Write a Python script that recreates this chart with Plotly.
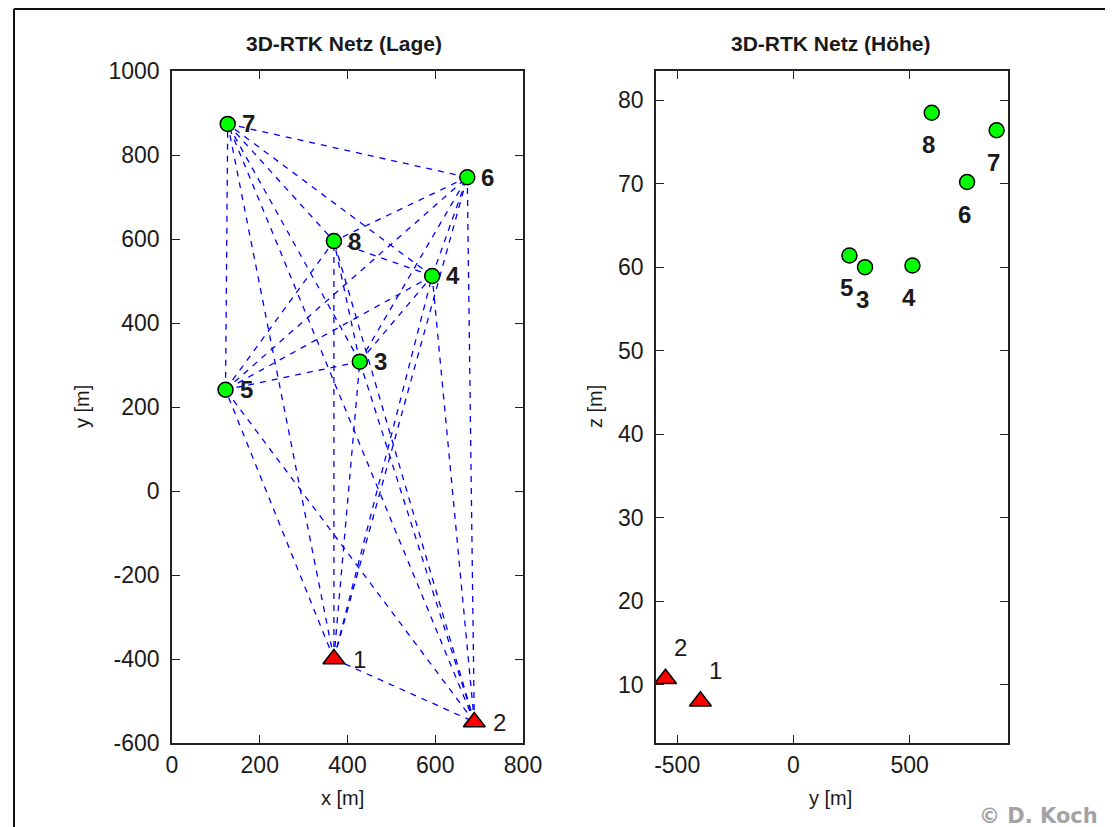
import plotly.graph_objects as go
from itertools import combinations

# ---- data ----
point_ids = ["1", "2", "3", "4", "5", "6", "7", "8"]
x_lage = [369, 689, 428, 593, 122, 673, 127, 369]
y_lage = [-400, -550, 308, 512, 241, 747, 874, 595]
z_hoehe = [8.0, 10.7, 60.0, 60.2, 61.4, 70.2, 76.4, 78.5]
is_reference = [True, True, False, False, False, False, False, False]

x_ticks_lage = [0, 200, 400, 600, 800]
y_ticks_lage = [-600, -400, -200, 0, 200, 400, 600, 800, 1000]
x_ticks_hoehe = [-500, 0, 500]
y_ticks_hoehe = [10, 20, 30, 40, 50, 60, 70, 80]

# the page places the figure 8px from the window's top-left corner
OFF = 8
W, H = 1113 - OFF, 827 - OFF
FONT = "Liberation Sans, Arial, Helvetica, sans-serif"
INK = "#1a1a1a"


def px(x):
    """window pixel -> paper x"""
    return (x - OFF) / W


def py(y):
    """window pixel -> paper y"""
    return 1 - (y - OFF) / H


fig = go.Figure()

# baselines (complete network) in the Lage plot
for i, j in combinations(range(len(point_ids)), 2):
    fig.add_trace(go.Scatter(
        x=[x_lage[i], x_lage[j]], y=[y_lage[i], y_lage[j]],
        mode="lines", line=dict(color="#0000ff", width=1.3, dash="6px,6px"),
        xaxis="x", yaxis="y", showlegend=False, hoverinfo="skip"))

new_idx = [k for k, r in enumerate(is_reference) if not r]
ref_idx = [k for k, r in enumerate(is_reference) if r]

circle_marker = dict(symbol="circle", size=15, color="#00ff00",
                     line=dict(color="#000000", width=1.5))
tri_marker = dict(symbol="triangle-up", size=19, color="#ff0000",
                  line=dict(color="#000000", width=1.5))

# Lage plot points
fig.add_trace(go.Scatter(x=[x_lage[k] for k in new_idx], y=[y_lage[k] for k in new_idx],
                         mode="markers", marker=circle_marker, xaxis="x", yaxis="y",
                         showlegend=False))
fig.add_trace(go.Scatter(x=[x_lage[k] for k in ref_idx], y=[y_lage[k] for k in ref_idx],
                         mode="markers", marker=tri_marker, xaxis="x", yaxis="y",
                         showlegend=False))
# Hoehe plot points
fig.add_trace(go.Scatter(x=[y_lage[k] for k in new_idx], y=[z_hoehe[k] for k in new_idx],
                         mode="markers", marker=circle_marker, xaxis="x2", yaxis="y2",
                         showlegend=False))
fig.add_trace(go.Scatter(x=[y_lage[k] for k in ref_idx], y=[z_hoehe[k] for k in ref_idx],
                         mode="markers", marker=tri_marker, xaxis="x2", yaxis="y2",
                         showlegend=False))

annotations = []
for k, pid in enumerate(point_ids):
    ref = is_reference[k]
    fnt = dict(family=FONT, size=24, color=INK)
    label = pid if ref else "<b>" + pid + "</b>"
    annotations.append(dict(x=x_lage[k], y=y_lage[k], xref="x", yref="y", text=label,
                            showarrow=False, xanchor="left", yanchor="middle",
                            xshift=17 if ref else 12, yshift=0, font=fnt))
    if ref:
        annotations.append(dict(x=y_lage[k], y=z_hoehe[k], xref="x2", yref="y2", text=label,
                                showarrow=False, xanchor="center", yanchor="middle",
                                xshift=15, yshift=31, font=fnt))
    else:
        annotations.append(dict(x=y_lage[k], y=z_hoehe[k], xref="x2", yref="y2", text=label,
                                showarrow=False, xanchor="center", yanchor="middle",
                                xshift=-3, yshift=-32, font=fnt))

title_font = dict(family=FONT, size=21, color=INK)
label_font = dict(family=FONT, size=20, color=INK)
annotations += [
    dict(x=px(344), y=py(44), xref="paper", yref="paper", text="<b>3D-RTK Netz (Lage)</b>",
         showarrow=False, xanchor="center", yanchor="middle", font=title_font),
    dict(x=px(831), y=py(44), xref="paper", yref="paper", text="<b>3D-RTK Netz (Höhe)</b>",
         showarrow=False, xanchor="center", yanchor="middle", font=title_font),
    dict(x=px(342), y=py(798), xref="paper", yref="paper", text="x [m]",
         showarrow=False, xanchor="center", yanchor="middle", font=label_font),
    dict(x=px(830), y=py(798), xref="paper", yref="paper", text="y [m]",
         showarrow=False, xanchor="center", yanchor="middle", font=label_font),
    dict(x=px(82), y=py(407), xref="paper", yref="paper", text="y [m]", textangle=-90,
         showarrow=False, xanchor="center", yanchor="middle", font=label_font),
    dict(x=px(595), y=py(407), xref="paper", yref="paper", text="z [m]", textangle=-90,
         showarrow=False, xanchor="center", yanchor="middle", font=label_font),
    dict(x=px(1100), y=py(816), xref="paper", yref="paper", text="<b>© D. Koch</b>",
         showarrow=False, xanchor="right", yanchor="middle",
         font=dict(family="DejaVu Sans, Verdana, sans-serif", size=21, color="#a3a3a3")),
]

axis_common = dict(showline=True, mirror="ticks", linecolor="#222222", linewidth=1.6,
                   ticks="inside", ticklen=8, tickwidth=1.4, tickcolor="#222222",
                   showgrid=False, zeroline=False, automargin=False,
                   tickfont=dict(family=FONT, size=23, color=INK))

fig.update_layout(
    width=W, height=H, autosize=False,
    margin=dict(l=0, r=0, t=0, b=0, pad=0, autoexpand=False),
    paper_bgcolor="white", plot_bgcolor="white",
    showlegend=False,
    xaxis=dict(domain=[px(172), px(523)], range=[0, 800], tickvals=x_ticks_lage,
               ticktext=[str(v) for v in x_ticks_lage],
               anchor="y", ticklabelstandoff=1, **axis_common),
    yaxis=dict(domain=[py(743), py(71)], range=[-600, 1000], tickvals=y_ticks_lage,
               ticktext=[str(v) for v in y_ticks_lage],
               anchor="x", ticklabelstandoff=6, **axis_common),
    xaxis2=dict(domain=[px(656), px(1008)], range=[-591, 923], tickvals=x_ticks_hoehe,
                ticktext=[str(v) for v in x_ticks_hoehe],
                anchor="y2", ticklabelstandoff=1, **axis_common),
    yaxis2=dict(domain=[py(743), py(71)], range=[3.0, 83.5], tickvals=y_ticks_hoehe,
                ticktext=[str(v) for v in y_ticks_hoehe],
                anchor="x2", ticklabelstandoff=6, **axis_common),
    annotations=annotations,
    shapes=[
        dict(type="line", xref="paper", yref="paper", x0=px(14), y0=py(9), x1=px(1125), y1=py(9),
             line=dict(color="#111111", width=2)),
        dict(type="line", xref="paper", yref="paper", x0=px(14), y0=py(9), x1=px(14), y1=py(840),
             line=dict(color="#111111", width=2)),
    ],
)

fig.write_html("out.html")
